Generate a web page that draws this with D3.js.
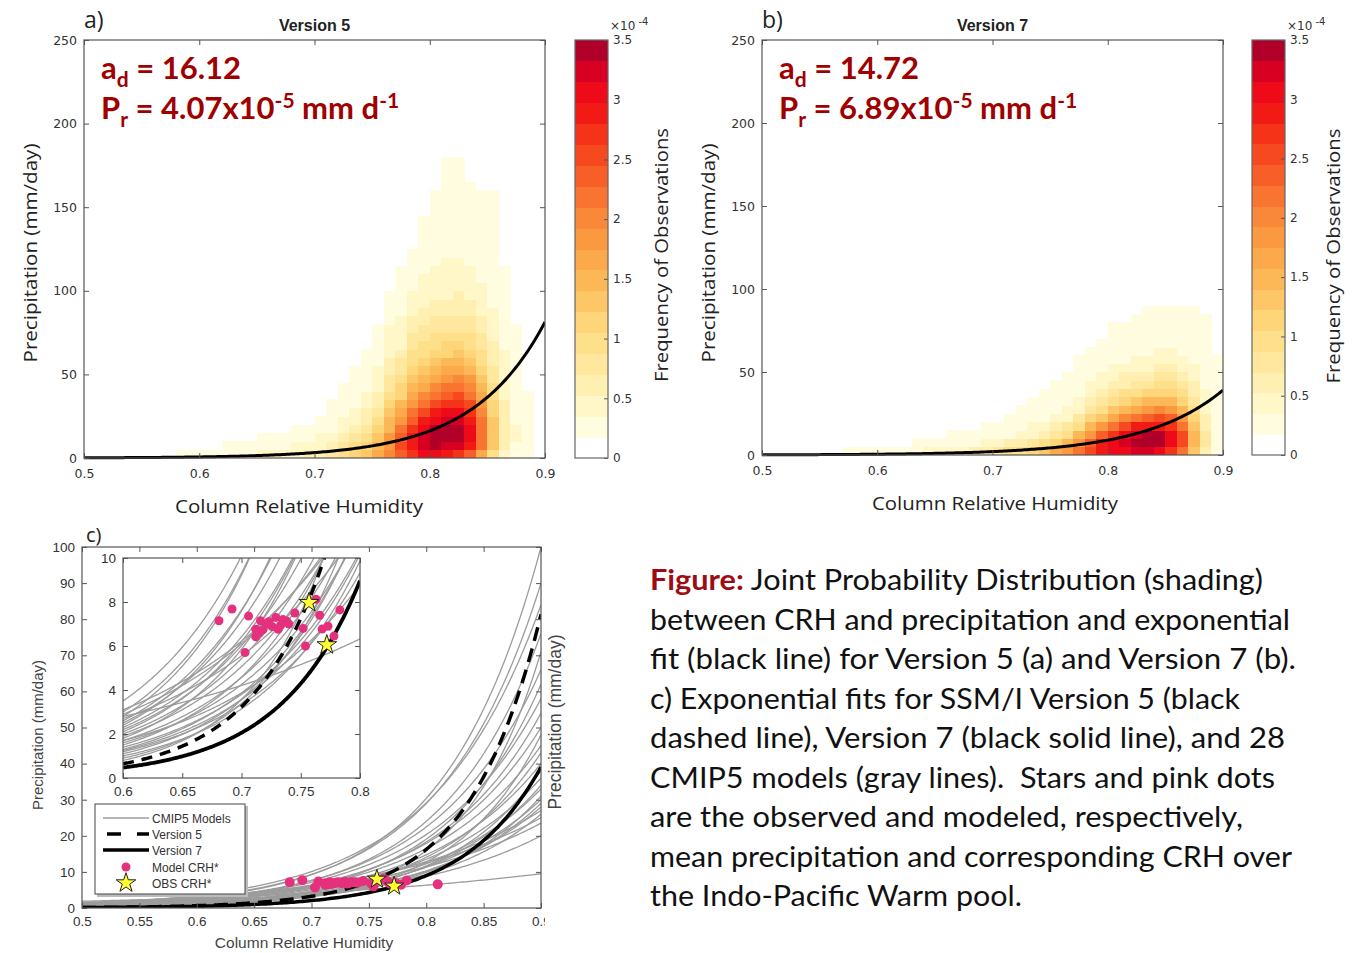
<!DOCTYPE html>
<html><head><meta charset="utf-8">
<script src="https://cdn.jsdelivr.net/npm/d3@7"></script>
<style>
body{margin:0;background:#fff;}
svg{display:block;}
</style>
</head><body>
<script>
// ---------------- DATA ----------------
// Heat-map bins: columns of CRH (0.01 wide, starting at 0.50), rows of precipitation (5 mm/day, from 0 upward)
const crhStart = 0.50, crhStep = 0.01, precipStep = 5;
// frequency of observations, units of 1e-4 ; panel a (Version 5)
const freqV5 = [
 [],[],[],[],[],[],[],[],            // 0.50-0.57
 [0.18],[0.19],                      // 0.58,0.59
 [0.2],[0.22],[0.25,0.18],[0.28,0.2],[0.32,0.22],[0.36,0.25,0.18],[0.4,0.28,0.2],[0.45,0.32,0.22],[0.5,0.38,0.26,0.19],[0.58,0.44,0.3,0.22],
 [0.65,0.5,0.36,0.26,0.19],
 [0.75,0.6,0.44,0.32,0.24,0.19,0.18],
 [0.95,0.8,0.62,0.48,0.38,0.3,0.25,0.21,0.19],
 [1.1,0.95,0.78,0.62,0.5,0.4,0.33,0.28,0.24,0.21,0.19],
 [1.3,1.15,0.98,0.8,0.66,0.54,0.45,0.38,0.32,0.28,0.24,0.21,0.19],
 [1.6,1.5,1.3,1.1,0.92,0.78,0.66,0.56,0.48,0.41,0.36,0.31,0.27,0.24,0.21,0.19],
 [2.0,1.9,1.8,1.55,1.4,1.25,1.1,0.95,0.85,0.75,0.65,0.55,0.5,0.45,0.4,0.35,0.3,0.26,0.22,0.19],
 [2.4,2.5,2.4,2.1,1.85,1.6,1.4,1.2,1.05,0.92,0.8,0.7,0.6,0.52,0.45,0.4,0.36,0.32,0.28,0.25,0.22,0.2,0.18],
 [2.7,2.9,2.9,2.7,2.4,2.15,1.9,1.7,1.5,1.3,1.15,1.0,0.9,0.8,0.7,0.62,0.55,0.48,0.42,0.37,0.32,0.28,0.24,0.21,0.18],
 [3.0,3.2,3.3,3.1,2.8,2.5,2.2,1.95,1.7,1.5,1.3,1.15,1.0,0.9,0.8,0.7,0.62,0.55,0.5,0.45,0.4,0.36,0.32,0.29,0.26,0.23,0.21,0.19,0.18],
 [3.1,3.4,3.5,3.4,3.1,2.8,2.5,2.2,1.95,1.7,1.5,1.3,1.15,1.0,0.9,0.8,0.72,0.64,0.57,0.5,0.45,0.4,0.36,0.33,0.3,0.27,0.25,0.23,0.21,0.2,0.19,0.18],
 [2.9,3.3,3.5,3.5,3.3,3.0,2.7,2.4,2.1,1.85,1.6,1.4,1.2,1.05,0.92,0.82,0.73,0.65,0.58,0.52,0.47,0.42,0.38,0.35,0.32,0.29,0.27,0.25,0.23,0.22,0.21,0.2,0.19,0.19,0.18,0.18],
 [2.7,3.2,3.4,3.4,3.25,3.0,2.75,2.5,2.2,1.95,1.7,1.5,1.3,1.12,0.98,0.86,0.76,0.68,0.61,0.55,0.5,0.45,0.41,0.37,0.34,0.31,0.28,0.26,0.24,0.23,0.22,0.21,0.2,0.19,0.18,0.18],
 [2.3,2.8,3.0,3.0,2.9,2.7,2.5,2.25,2.0,1.75,1.55,1.35,1.18,1.03,0.9,0.8,0.7,0.62,0.55,0.49,0.44,0.4,0.36,0.33,0.3,0.27,0.25,0.23,0.21,0.2,0.19,0.18,0.18],
 [1.7,2.1,2.2,2.2,2.1,1.95,1.8,1.6,1.45,1.3,1.15,1.0,0.9,0.8,0.7,0.62,0.55,0.49,0.44,0.4,0.36,0.33,0.3,0.27,0.25,0.23,0.21,0.2,0.19,0.18,0.18,0.18],
 [1.0,1.25,1.3,1.3,1.25,1.18,1.1,1.0,0.92,0.84,0.76,0.68,0.62,0.56,0.5,0.45,0.41,0.37,0.34,0.31,0.28,0.26,0.24,0.22,0.21,0.2,0.19,0.19,0.18,0.18,0.18,0.18],
 [0.5,0.62,0.66,0.66,0.63,0.6,0.56,0.52,0.48,0.44,0.41,0.38,0.35,0.32,0.3,0.28,0.26,0.24,0.22,0.21,0.2,0.19,0.18],
 [0.28,0.33,0.35,0.35,0.34,0.32,0.3,0.28,0.26,0.24,0.23,0.22,0.21,0.2,0.19,0.18],
 [0.19,0.21,0.22,0.22,0.21,0.2,0.19,0.18],
 []
];
// panel b (Version 7)
const freqV7 = [
 [],[],[],[],[],[],[],                // 0.50-0.56
 [0.18],[0.18],[0.19],                // 0.57-0.59
 [0.2],[0.23],[0.27],[0.31,0.18],[0.35,0.2],[0.4,0.22],[0.46,0.25,0.18],[0.52,0.29,0.19],[0.6,0.34,0.21],[0.68,0.4,0.24,0.18],
 [0.78,0.47,0.28,0.2],
 [0.9,0.56,0.34,0.23,0.18],
 [1.03,0.67,0.42,0.28,0.21,0.18],
 [1.18,0.8,0.52,0.35,0.25,0.2,0.18],
 [1.36,0.96,0.64,0.43,0.31,0.24,0.2,0.18],
 [1.58,1.15,0.78,0.53,0.38,0.29,0.23,0.2,0.18],
 [1.85,1.45,1.0,0.7,0.5,0.37,0.29,0.23,0.2,0.18],
 [2.2,1.9,1.4,1.0,0.72,0.52,0.39,0.3,0.25,0.21,0.19,0.18],
 [2.55,2.4,1.9,1.42,1.05,0.78,0.58,0.44,0.35,0.28,0.23,0.2,0.18],
 [2.8,2.8,2.3,1.8,1.35,1.0,0.76,0.58,0.45,0.36,0.29,0.25,0.21,0.19],
 [3.0,3.1,2.7,2.2,1.7,1.3,0.98,0.75,0.58,0.46,0.37,0.31,0.26,0.22,0.2,0.18],
 [3.1,3.3,3.0,2.5,1.95,1.5,1.15,0.88,0.68,0.53,0.42,0.34,0.28,0.24,0.21,0.18],
 [3.2,3.45,3.3,2.8,2.2,1.7,1.3,1.0,0.77,0.6,0.47,0.38,0.31,0.26,0.22,0.2,0.18],
 [3.2,3.5,3.45,2.95,2.4,1.85,1.42,1.1,0.85,0.66,0.52,0.42,0.34,0.28,0.24,0.21,0.19,0.18],
 [3.0,3.4,3.35,2.95,2.45,1.95,1.5,1.17,0.9,0.7,0.56,0.45,0.36,0.3,0.25,0.22,0.19,0.18],
 [2.7,3.1,3.0,2.7,2.3,1.85,1.45,1.13,0.88,0.7,0.56,0.45,0.37,0.31,0.26,0.22,0.2,0.18],
 [2.2,2.6,2.5,2.25,1.9,1.55,1.22,0.96,0.76,0.6,0.49,0.4,0.33,0.28,0.24,0.21,0.19,0.18],
 [1.3,1.55,1.5,1.32,1.12,0.94,0.78,0.65,0.55,0.46,0.39,0.34,0.3,0.26,0.23,0.21,0.19,0.18],
 [0.6,0.72,0.72,0.66,0.58,0.5,0.44,0.38,0.33,0.29,0.26,0.23,0.21,0.2,0.19,0.18,0.18],
 [0.24,0.28,0.28,0.27,0.25,0.24,0.22,0.21,0.2,0.19,0.18,0.18]
];
// colour bar levels (bottom to top), 20 steps of 0.175e-4
const cmapColors = ["#ffffff","#fffce0","#fff7c8","#fff0b2","#ffe89e","#fedf8a","#fed578","#fdc767","#fcb857","#fba94a",
                    "#fa9940","#f98938","#f87430","#f75e28","#f64920","#f43318","#f21a15","#ee0a18","#d80022","#b0002a"];
const cbTicks = [0,0.5,1,1.5,2,2.5,3,3.5];
// exponential fits P = Pr * exp(ad * CRH)
const fitNames = ["Version 5","Version 7"];
const fitAd = [16.12, 14.72];
const fitPr = [4.07e-5, 6.89e-5];
const xTicksAB = [0.5,0.6,0.7,0.8,0.9];
const yTicksAB = [0,50,100,150,200,250];
// panel c: 28 CMIP5 model fits, precipitation at CRH=0.6 and at CRH=0.9
const modelP06 = [3.5,3.0,2.8,2.6,2.5,2.4,2.3,2.2,2.1,2.0,1.9,1.8,1.7,1.6,1.5,1.4,1.3,1.2,1.1,1.0,0.9,0.8,1.25,2.9,3.1,2.7,2.8,1.7];
const modelP09 = [84,90,100,66,58,76,50,45,54,40,36,62,33,30,43,28,34,26,38,31,48,71,29,27,25,23.5,9.5,20];
// model mean CRH* and precipitation (pink dots)
const dotCRH = [0.681,0.692,0.706,0.703,0.716,0.712,0.712,0.718,0.729,0.726,0.731,0.735,0.738,0.745,0.752,0.754,0.763,0.766,0.768,0.773,0.778,0.783,0.723,0.721,0.733,0.715,0.740,0.810];
const dotP   = [7.15,7.68,7.36,5.7,7.15,6.76,6.42,6.73,7.3,6.88,6.76,7.2,7.14,7.5,6.8,6.0,8.12,7.4,6.77,6.9,6.45,7.64,7.1,7.0,6.95,6.6,7.0,6.55];
// observed (stars): Version 5, Version 7
const starCRH = [0.757, 0.772];
const starP   = [7.97, 6.05];
const xTicksC = [0.5,0.55,0.6,0.65,0.7,0.75,0.8,0.85,0.9];
const yTicksC = [0,10,20,30,40,50,60,70,80,90,100];
const xTicksInset = [0.6,0.65,0.7,0.75,0.8];
const yTicksInset = [0,2,4,6,8,10];
const legendLabels = ["CMIP5 Models","Version 5","Version 7","Model CRH*","OBS CRH*"];
const captionLead = "Figure:";
const captionLines = [
 " Joint Probability Distribution (shading)",
 "between CRH and precipitation and exponential",
 "fit (black line) for Version 5 (a) and Version 7 (b).",
 "c) Exponential fits for SSM/I Version 5 (black",
 "dashed line), Version 7 (black solid line), and 28",
 "CMIP5 models (gray lines).  Stars and pink dots",
 "are the observed and modeled, respectively,",
 "mean precipitation and corresponding CRH over",
 "the Indo-Pacific Warm pool."
];

// ---------------- LAYOUT ----------------
const TICKF = "DejaVu Sans, sans-serif";
const ARIAL = "Liberation Sans, Arial, sans-serif";
const LABF = "Open Sans, sans-serif";
const DARKRED = "#a00000";
const svg = d3.select("body").append("svg").attr("width",1354).attr("height",953);
svg.append("rect").attr("width",1354).attr("height",953).attr("fill","#fff");
const defs = svg.append("defs");
let clipN = 0;
function clip(x0,y0,x1,y1){ const id="c"+(clipN++); defs.append("clipPath").attr("id",id).append("rect").attr("x",x0).attr("y",y0).attr("width",x1-x0).attr("height",y1-y0); return "url(#"+id+")"; }

function styleAxis(g, font, size, col){
  g.select(".domain").remove();
  g.attr("font-family",font).attr("font-size",size);
  g.selectAll(".tick line").attr("stroke","#555").attr("stroke-width",1);
  g.selectAll(".tick text").attr("fill",col||"#333");
}
function boxAxes(g, x, y, tv, yv, font, size, fmtX, fmtY, padX){
  const [x0,x1]=x.range(), [y0,y1]=y.range(); // y0 bottom
  const b = g.append("g").attr("transform",`translate(0,${y0})`).call(d3.axisBottom(x).tickValues(tv).tickSizeInner(-5).tickSizeOuter(0).tickPadding(padX||7).tickFormat(fmtX));
  styleAxis(b,font,size);
  const t = g.append("g").attr("transform",`translate(0,${y1})`).call(d3.axisTop(x).tickValues(tv).tickSizeInner(-5).tickSizeOuter(0).tickFormat(""));
  styleAxis(t,font,size);
  const l = g.append("g").attr("transform",`translate(${x0},0)`).call(d3.axisLeft(y).tickValues(yv).tickSizeInner(-5).tickSizeOuter(0).tickPadding(7).tickFormat(fmtY));
  styleAxis(l,font,size);
  const r = g.append("g").attr("transform",`translate(${x1},0)`).call(d3.axisRight(y).tickValues(yv).tickSizeInner(-5).tickSizeOuter(0).tickFormat(""));
  styleAxis(r,font,size);
  g.append("rect").attr("x",x0).attr("y",y1).attr("width",x1-x0).attr("height",y0-y1).attr("fill","none").attr("stroke","#555").attr("stroke-width",1.2);
  return b;
}
function levelOf(v){ const step = 3.5/cmapColors.length; return Math.max(0,Math.min(cmapColors.length-1, Math.floor(v/step+1e-9))); }

function heatPanel(o){
  const g = svg.append("g");
  const x = d3.scaleLinear().domain([0.5,0.9]).range([o.x0,o.x1]);
  const y = d3.scaleLinear().domain([0,250]).range([o.yb,o.yt]);
  const cells = [];
  o.freq.forEach((col,i)=>{ const c0 = crhStart + i*crhStep; col.forEach((v,j)=>{ const L=levelOf(v); if(L>0) cells.push({c0,p0:j*precipStep,L}); }); });
  g.append("g").attr("clip-path",clip(o.x0,o.yt,o.x1,o.yb)).selectAll("rect").data(cells).join("rect")
    .attr("x",d=>x(d.c0)).attr("width",d=>x(d.c0+crhStep)-x(d.c0)+0.4)
    .attr("y",d=>y(d.p0+precipStep)).attr("height",d=>y(d.p0)-y(d.p0+precipStep)+0.4)
    .attr("fill",d=>cmapColors[d.L]).attr("shape-rendering","crispEdges");
  // fit curve
  const xs = d3.range(0.5,0.9001,0.002);
  g.append("path").attr("clip-path",clip(o.x0,o.yt,o.x1,o.yb+3)).datum(xs)
   .attr("d",d3.line().x(d=>x(d)).y(d=>y(o.pr*Math.exp(o.ad*d)))).attr("fill","none").attr("stroke","#000").attr("stroke-width",3);
  boxAxes(g,x,y,xTicksAB,yTicksAB,TICKF,12.5,d=>String(d),d=>String(d),11);
  // title
  g.append("text").attr("x",(o.x0+o.x1)/2).attr("y",o.yt-9).attr("text-anchor","middle").attr("font-family",ARIAL).attr("font-weight","bold").attr("font-size",16).attr("fill","#222").text(o.title);
  g.append("text").attr("x",o.letterX).attr("y",o.yt-12).attr("font-family",LABF).attr("font-size",23).attr("fill","#222").text(o.letter);
  // axis labels
  g.append("text").attr("x",o.xlabX).attr("y",o.yb+55).attr("text-anchor","middle").attr("font-family",LABF).attr("font-size",19).attr("fill","#222")
    .attr("textLength",o.xlabLen).attr("lengthAdjust","spacingAndGlyphs").text("Column Relative Humidity");
  g.append("text").attr("transform",`translate(${o.ylabX},${o.ylabY}) rotate(-90)`).attr("text-anchor","middle").attr("font-family",LABF).attr("font-size",19).attr("fill","#222")
    .attr("textLength",219).attr("lengthAdjust","spacingAndGlyphs").text("Precipitation (mm/day)");
  // red annotation
  const ad = o.ad.toFixed(2), prm = (o.pr/1e-5).toFixed(2);
  const t1 = g.append("text").attr("x",o.x0+17).attr("y",o.yt+39).attr("font-family","Lato, sans-serif").attr("font-weight","bold").attr("font-size",31).attr("fill",DARKRED);
  t1.append("tspan").text("a");
  t1.append("tspan").attr("dy",8).attr("font-size",21).text("d");
  t1.append("tspan").attr("dy",-8).text(" = "+ad);
  const t2 = g.append("text").attr("x",o.x0+17).attr("y",o.yt+79).attr("font-family","Lato, sans-serif").attr("font-weight","bold").attr("font-size",31).attr("fill",DARKRED);
  t2.append("tspan").text("P");
  t2.append("tspan").attr("dy",8).attr("font-size",21).text("r");
  t2.append("tspan").attr("dy",-8).text(" = "+prm+"x10");
  t2.append("tspan").attr("dy",-11).attr("font-size",21).text("-5");
  t2.append("tspan").attr("dy",11).text(" mm d");
  t2.append("tspan").attr("dy",-11).attr("font-size",21).text("-1");
  // colour bar
  const cb = svg.append("g");
  const yc = d3.scaleLinear().domain([0,3.5]).range([o.yb,o.yt]);
  const step = 3.5/cmapColors.length;
  cb.selectAll("rect.lev").data(cmapColors).join("rect").attr("class","lev")
    .attr("x",o.cb0).attr("width",o.cb1-o.cb0).attr("y",(c,i)=>yc((i+1)*step)).attr("height",(c,i)=>yc(i*step)-yc((i+1)*step)+0.5).attr("fill",c=>c).attr("shape-rendering","crispEdges");
  const ca = cb.append("g").attr("transform",`translate(${o.cb1},0)`).call(d3.axisRight(yc).tickValues(cbTicks).tickSizeInner(-4).tickSizeOuter(0).tickPadding(5).tickFormat(d=>String(d)));
  styleAxis(ca,TICKF,12);
  cb.append("rect").attr("x",o.cb0).attr("y",o.yt).attr("width",o.cb1-o.cb0).attr("height",o.yb-o.yt).attr("fill","none").attr("stroke","#666").attr("stroke-width",1.2);
  const ex = cb.append("text").attr("x",o.cb1+2).attr("y",o.yt-10).attr("font-family",TICKF).attr("font-size",12).attr("fill","#333");
  ex.append("tspan").text("\u00d710");
  ex.append("tspan").attr("dy",-5).attr("font-size",10).text(" -4");
  cb.append("text").attr("transform",`translate(${o.cbLabX},${o.cbLabY}) rotate(-90)`).attr("text-anchor","middle").attr("font-family",LABF).attr("font-size",19).attr("fill","#222")
    .attr("textLength",o.cbLabLen).attr("lengthAdjust","spacingAndGlyphs").text("Frequency of Observations");
}

heatPanel({x0:84,x1:545,yb:458,yt:40,freq:freqV5,ad:fitAd[0],pr:fitPr[0],title:fitNames[0],letter:"a)",letterX:84,
  xlabX:299,xlabLen:248,ylabX:37,ylabY:253,cb0:575,cb1:608,cbLabX:668,cbLabY:255,cbLabLen:254});
heatPanel({x0:762,x1:1223,yb:455,yt:40,freq:freqV7,ad:fitAd[1],pr:fitPr[1],title:fitNames[1],letter:"b)",letterX:762,
  xlabX:995,xlabLen:246,ylabX:715,ylabY:253,cb0:1252,cb1:1285,cbLabX:1340,cbLabY:256,cbLabLen:255});

// ---------------- PANEL C ----------------
(function(){
  const g = svg.append("g");
  const x = d3.scaleLinear().domain([0.5,0.9]).range([82,541]);
  const y = d3.scaleLinear().domain([0,100]).range([908,547]);
  const curve = (a,b)=>(c)=>a*Math.exp(Math.log(b/a)/0.3*(c-0.6));
  const xs = d3.range(0.5,0.9001,0.002);
  const main = g.append("g").attr("clip-path",clip(82,547,541,908));
  modelP06.forEach((a,i)=>{ const f=curve(a,modelP09[i]);
    main.append("path").datum(xs).attr("d",d3.line().x(d=>x(d)).y(d=>y(f(d)))).attr("fill","none").attr("stroke","#9c9c9c").attr("stroke-width",1.3); });
  const fitLine = k=>d3.line().x(d=>x(d)).y(d=>y(fitPr[k]*Math.exp(fitAd[k]*d)));
  main.append("path").datum(xs).attr("d",fitLine(0)).attr("fill","none").attr("stroke","#000").attr("stroke-width",3.5).attr("stroke-dasharray","14,8");
  main.append("path").datum(xs).attr("d",fitLine(1)).attr("fill","none").attr("stroke","#000").attr("stroke-width",3.5);
  main.selectAll("circle").data(dotCRH).join("circle").attr("cx",d=>x(d)).attr("cy",(d,i)=>y(dotP[i])).attr("r",5).attr("fill","#e5307e");
  const star = d3.symbol().type(d3.symbolStar).size(110);
  main.selectAll("path.star").data(starCRH).join("path").attr("class","star").attr("d",star)
    .attr("transform",(d,i)=>`translate(${x(d)},${y(starP[i])})`).attr("fill","#ffff33").attr("stroke","#222").attr("stroke-width",1);
  const b = boxAxes(g,x,y,xTicksC,yTicksC,ARIAL,13.5,d=>String(d),d=>String(d),8);
  b.attr("clip-path",clip(-10,-10,545,40));
  g.append("text").attr("x",304).attr("y",948).attr("text-anchor","middle").attr("font-family",ARIAL).attr("font-size",15.5).attr("fill","#444").text("Column Relative Humidity");
  g.append("text").attr("transform","translate(43,735) rotate(-90)").attr("text-anchor","middle").attr("font-family",ARIAL).attr("font-size",15).attr("fill","#444").text("Precipitation (mm/day)");
  g.append("text").attr("transform","translate(561,722) rotate(-90)").attr("text-anchor","middle").attr("font-family",ARIAL).attr("font-size",17.5).attr("fill","#444").text("Precipitation (mm/day)");
  g.append("text").attr("x",86).attr("y",542).attr("font-family",LABF).attr("font-size",20).attr("fill","#222").text("c)");

  // inset
  const xi = d3.scaleLinear().domain([0.6,0.8]).range([123,360]);
  const yi = d3.scaleLinear().domain([0,10]).range([778,558]);
  const ig = g.append("g");
  ig.append("rect").attr("x",123).attr("y",558).attr("width",237).attr("height",220).attr("fill","#fff");
  const ic = ig.append("g").attr("clip-path",clip(123,558,360,778));
  const xsi = d3.range(0.6,0.8001,0.001);
  modelP06.forEach((a,i)=>{ const f=curve(a,modelP09[i]);
    ic.append("path").datum(xsi).attr("d",d3.line().x(d=>xi(d)).y(d=>yi(f(d)))).attr("fill","none").attr("stroke","#9c9c9c").attr("stroke-width",1.3); });
  const fitLineI = k=>d3.line().x(d=>xi(d)).y(d=>yi(fitPr[k]*Math.exp(fitAd[k]*d)));
  ic.append("path").datum(xsi).attr("d",fitLineI(0)).attr("fill","none").attr("stroke","#000").attr("stroke-width",3.5).attr("stroke-dasharray","11,8");
  ic.append("path").datum(xsi).attr("d",fitLineI(1)).attr("fill","none").attr("stroke","#000").attr("stroke-width",3.8);
  ic.selectAll("circle").data(dotCRH).join("circle").attr("cx",d=>xi(d)).attr("cy",(d,i)=>yi(dotP[i])).attr("r",4.5).attr("fill","#e5307e");
  ic.selectAll("path.star").data(starCRH).join("path").attr("class","star").attr("d",d3.symbol().type(d3.symbolStar).size(120))
    .attr("transform",(d,i)=>`translate(${xi(d)},${yi(starP[i])})`).attr("fill","#ffff33").attr("stroke","#222").attr("stroke-width",1);
  boxAxes(ig,xi,yi,xTicksInset,yTicksInset,ARIAL,13.5,d=>String(d),d=>String(d),8);

  // legend
  const lg = g.append("g");
  lg.append("rect").attr("x",97).attr("y",806).attr("width",151).attr("height",91).attr("fill","#bbb");
  lg.append("rect").attr("x",95).attr("y",804).attr("width",150).attr("height",90).attr("fill","#fff").attr("stroke","#444").attr("stroke-width",1);
  const rows = [818,834,850,867,883];
  legendLabels.forEach((t,i)=>{
    lg.append("text").attr("x",152).attr("y",rows[i]+4.5).attr("font-family",ARIAL).attr("font-size",12).attr("fill","#333").text(t);
  });
  lg.append("line").attr("x1",103).attr("x2",149).attr("y1",rows[0]).attr("y2",rows[0]).attr("stroke","#9c9c9c").attr("stroke-width",1.3);
  lg.append("line").attr("x1",107).attr("x2",149).attr("y1",rows[1]).attr("y2",rows[1]).attr("stroke","#000").attr("stroke-width",3.5).attr("stroke-dasharray","14,16");
  lg.append("line").attr("x1",103).attr("x2",149).attr("y1",rows[2]).attr("y2",rows[2]).attr("stroke","#000").attr("stroke-width",3.5);
  lg.append("circle").attr("cx",126).attr("cy",rows[3]).attr("r",4.5).attr("fill","#e5307e");
  lg.append("path").attr("d",d3.symbol().type(d3.symbolStar).size(120)).attr("transform",`translate(126,${rows[4]})`).attr("fill","#ffff33").attr("stroke","#222").attr("stroke-width",1);
})();

// ---------------- CAPTION ----------------
const capLens = [613,640,646,590,635,625,593,642,372];
captionLines.forEach((ln,i)=>{
  const t = svg.append("text").attr("x",650).attr("y",590+i*39.5).attr("font-family","Lato, sans-serif").attr("font-size",29).attr("fill","#111")
    .style("white-space","pre").attr("textLength",capLens[i]).attr("lengthAdjust","spacingAndGlyphs");
  if(i===0){ t.append("tspan").attr("font-weight","bold").attr("fill","#9b0d12").text(captionLead); }
  t.append("tspan").text(ln);
});
</script>
</body></html>
